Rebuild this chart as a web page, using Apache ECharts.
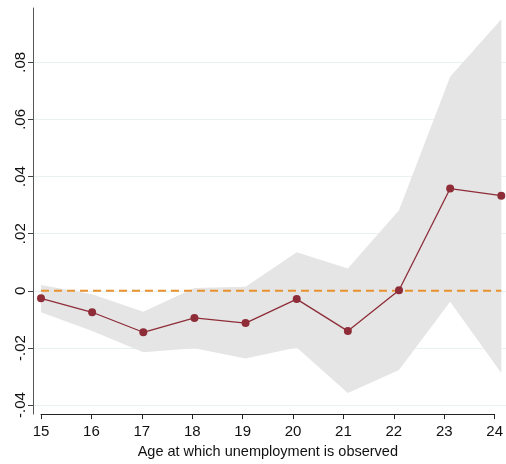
<!DOCTYPE html>
<html>
<head>
<meta charset="utf-8">
<script src="https://cdn.jsdelivr.net/npm/echarts@6/dist/echarts.min.js"></script>
<style>
  html, body { margin: 0; padding: 0; background: #fff; }
  #chart { width: 506px; height: 464px; }
</style>
</head>
<body>
<div id="chart"></div>
<script>
// Age at which unemployment is observed
const ages = [15, 16, 17, 18, 19, 20, 21, 22, 23, 24];
// Point estimates and 95% confidence bounds
const estimate = [-0.0026, -0.0075, -0.0145, -0.0095, -0.0113, -0.0029, -0.0141, 0.0002, 0.0358, 0.0333];
const ciLower  = [-0.0075, -0.0141, -0.0215, -0.0201, -0.0237, -0.0198, -0.0358, -0.0277, -0.0038, -0.0288];
const ciUpper  = [ 0.0020, -0.0012, -0.0073,  0.0010,  0.0014,  0.0135,  0.0078,  0.0282,  0.0749,  0.0951];
// Y tick values
const yTicks = [-0.04, -0.02, 0, 0.02, 0.04, 0.06, 0.08];
// Horizontal reference line
const refLevel = 0;
const xTitle = 'Age at which unemployment is observed';

const FONT = "'Liberation Sans Narrow', 'Arial Narrow', 'Liberation Sans', Arial, sans-serif";

function fmtTick(v) {
  const r = Math.round(v * 100) / 100;
  if (r === 0) return '0';
  return (r < 0 ? '-' : '') + Math.abs(r).toFixed(2).replace(/^0/, '');
}

const estPairs = ages.map((a, i) => [a, estimate[i]]);
const bandRows = ages.map((a, i) => [a, ciLower[i], ciUpper[i]]);
const refPairs = [[ages[0], refLevel], [ages[ages.length - 1], refLevel]];

// Confidence band: one polygon through the upper bounds and back along the lower bounds
function renderBand(params, api) {
  if (params.dataIndex !== 0) return null;
  const upper = bandRows.map(r => api.coord([r[0], r[2]]));
  const lower = bandRows.map(r => api.coord([r[0], r[1]])).reverse();
  return {
    type: 'polygon',
    shape: { points: upper.concat(lower) },
    style: { fill: '#e5e5e5' },
    silent: true
  };
}

const chart = echarts.init(document.getElementById('chart'), null, { renderer: 'canvas' });

chart.setOption({
  backgroundColor: '#ffffff',
  animation: false,
  grid: [
    // plotting area: spans the value ticks -.04 .. .08
    { left: 33, right: 0, top: 62.3, bottom: 58.9 },
    // frame: holds the visible x axis and the full-length y axis line
    { left: 41, right: 4.7, top: 8, bottom: 49 }
  ],
  xAxis: [
    {
      type: 'value', gridIndex: 0, min: 14.8436, max: 24.092,
      show: false
    },
    {
      type: 'value', gridIndex: 1, min: ages[0], max: ages[ages.length - 1], interval: 1,
      axisLine: { show: true, lineStyle: { color: '#222', width: 1 } },
      axisTick: { show: true, length: 5, lineStyle: { color: '#222' } },
      axisLabel: { fontFamily: FONT, fontSize: 15, color: '#111', margin: 10 },
      splitLine: { show: false },
      name: xTitle, nameLocation: 'middle', nameGap: 27,
      nameTextStyle: { fontFamily: FONT, fontSize: 14.5, color: '#111' }
    }
  ],
  yAxis: [
    {
      type: 'value', gridIndex: 0, min: yTicks[0], max: yTicks[yTicks.length - 1], interval: 0.02,
      axisLine: { show: false },
      axisTick: { show: true, length: 5, lineStyle: { color: '#444' } },
      axisLabel: {
        fontFamily: FONT, fontSize: 15, color: '#111', rotate: 90, margin: 5,
        formatter: fmtTick
      },
      splitLine: { show: true, lineStyle: { color: '#eaf1f3', width: 1 } }
    },
    {
      type: 'value', gridIndex: 1, min: 0, max: 1, offset: 8,
      axisLine: { show: true, lineStyle: { color: '#555', width: 1 } },
      axisTick: { show: false },
      axisLabel: { show: false },
      splitLine: { show: false }
    }
  ],
  series: [
    {
      name: 'ci', type: 'custom', xAxisIndex: 0, yAxisIndex: 0,
      data: bandRows, renderItem: renderBand, clip: false, silent: true,
      encode: { x: 0, y: [1, 2] }, z: 1
    },
    {
      name: 'ref', type: 'line', xAxisIndex: 0, yAxisIndex: 0,
      data: refPairs, symbol: 'none', clip: false, silent: true,
      lineStyle: { color: '#e8922f', width: 2, type: [8, 5] }, z: 3
    },
    {
      name: 'estimate', type: 'line', xAxisIndex: 0, yAxisIndex: 0,
      data: estPairs, clip: false,
      symbol: 'circle', symbolSize: 8,
      itemStyle: { color: '#8e2d38' },
      lineStyle: { color: '#8e2d38', width: 1.3 }, z: 4
    }
  ]
});
</script>
</body>
</html>
